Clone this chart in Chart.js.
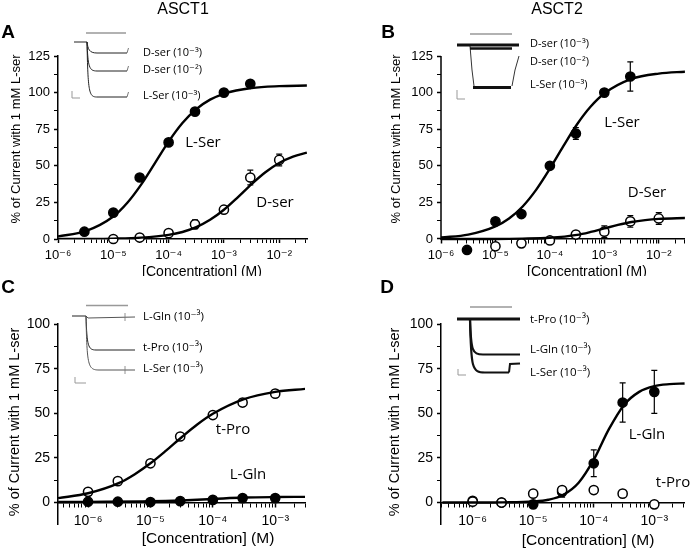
<!DOCTYPE html>
<html>
<head>
<meta charset="utf-8">
<script src="https://cdn.jsdelivr.net/npm/chart.js@4.4.1/dist/chart.umd.min.js"></script>
<style>
  html, body { margin: 0; padding: 0; background: #fff; }
  #fig { position: relative; width: 691px; height: 552px; }
  #fig canvas { position: absolute; }
</style>
</head>
<body>
<div id="fig">
  <canvas id="panelA" width="345" height="276" style="left:0;top:0;width:345px;height:276px"></canvas>
  <canvas id="panelB" width="346" height="276" style="left:345px;top:0;width:346px;height:276px"></canvas>
  <canvas id="panelC" width="345" height="276" style="left:0;top:276px;width:345px;height:276px"></canvas>
  <canvas id="panelD" width="346" height="276" style="left:345px;top:276px;width:346px;height:276px"></canvas>
</div>
<script>
// ---- data ----
// A: ASCT1, L-Ser and D-ser
const concA_lSer = [3e-6, 1e-5, 3e-5, 1e-4, 3e-4, 1e-3, 3e-3];
const valA_lSer = [5, 18, 42, 66, 87, 100, 106];
const errA_lSer = [1, 1.5, 2, 1.5, 1.5, 1, 2];
const concA_dSer = [1e-5, 3e-5, 1e-4, 3e-4, 1e-3, 3e-3, 1e-2];
const valA_dSer = [0, 1, 4, 10, 20, 42, 54];
const errA_dSer = [0.5, 1, 1, 3, 2.5, 5, 4];
const fitA_lSerLog = [-6, -5.5, -5, -4.75, -4.5, -4.25, -4, -3.75, -3.5, -3.25, -3, -2.5, -2, -1.5];
const fitA_lSer = [1.8, 5.4, 15.4, 24.6, 37.0, 51.7, 66.5, 79.2, 88.7, 95.2, 99.2, 103.1, 104.4, 104.8];
const fitA_dSerLog = [-6, -5.5, -5, -4.5, -4, -3.75, -3.5, -3.25, -3, -2.75, -2.5, -2.25, -2, -1.75, -1.5];
const fitA_dSer = [0.03, 0.09, 0.29, 0.91, 2.8, 4.8, 8.1, 13.1, 20, 28.5, 37.5, 45.6, 51.9, 56.2, 59];

// B: ASCT2, L-Ser and D-Ser
const concB_lSer = [3e-6, 1e-5, 3e-5, 1e-4, 3e-4, 1e-3, 3e-3];
const valB_lSer = [-7.5, 12, 17, 50, 72, 100, 111];
const errB_lSer = [1, 1, 1, 1.5, 4, 1, 10];
const concB_dSer = [1e-5, 3e-5, 1e-4, 3e-4, 1e-3, 3e-3, 1e-2];
const valB_dSer = [-5, -3, -1, 3, 5, 12, 14];
const errB_dSer = [1, 1, 1, 1.5, 4, 4, 4];
const fitB_lSerLog = [-6, -5.5, -5, -4.75, -4.5, -4.25, -4, -3.75, -3.5, -3.25, -3, -2.5, -2, -1.5];
const fitB_lSer = [1.0, 3.0, 8.6, 14.0, 22.2, 33.7, 48.0, 63.6, 78.4, 90.5, 99.4, 109.3, 113.0, 114.3];
const fitB_dSerLog = [-6, -5, -4.5, -4, -3.5, -3.25, -3, -2.75, -2.5, -2.25, -2, -1.5];
const fitB_dSer = [0, 0, 0.2, 0.8, 2.8, 4.8, 7.2, 9.6, 11.6, 12.9, 13.7, 14.3];

// C: ASCT1, t-Pro and L-Gln
const concC = [1e-6, 3e-6, 1e-5, 3e-5, 1e-4, 3e-4, 1e-3];
const valC_tPro = [6, 12, 22, 37, 49, 56, 61];
const errC_tPro = [1, 1, 1, 1, 1, 2, 2];
const valC_lGln = [0.5, 0.5, 0.3, 0.8, 1.5, 2.5, 2.5];
const errC_lGln = [0.5, 0.5, 0.5, 0.5, 0.5, 1, 1];
const fitC_tProLog = [-6.48, -6, -5.5, -5.25, -5, -4.75, -4.5, -4.25, -4, -3.5, -3, -2.52];
const fitC_tPro = [2.5, 5.2, 11.0, 15.9, 22.0, 29.1, 36.6, 43.7, 49.7, 57.9, 62, 63.7];
const fitC_lGlnLog = [-6.48, -6, -5, -4.5, -4, -3.5, -3, -2.52];
const fitC_lGln = [0.3, 0.4, 0.7, 1.2, 2.0, 2.8, 3.1, 3.2];

// D: ASCT2, L-Gln and t-Pro
const concD = [1e-6, 3e-6, 1e-5, 3e-5, 1e-4, 3e-4, 1e-3];
const valD_lGln = [1, 0, -1, 6, 22, 56, 62];
const errD_lGln = [1, 1, 2, 3, 7.5, 11, 12];
const valD_tPro = [0.5, 0, 5, 7, 7, 5, -1];
const errD_tPro = [0.5, 0.5, 1, 1.5, 2, 2, 0.5];
const fitD_lGlnLog = [-6.5, -6, -5.5, -5, -4.75, -4.5, -4.25, -4, -3.75, -3.5, -3.25, -3, -2.75, -2.5];
const fitD_lGln = [0, 0, 0.1, 0.6, 1.6, 4.4, 11.1, 24.0, 41.1, 54.7, 62.0, 65.2, 66.3, 66.7];

const yTicksTop = [0, 12.5, 25, 37.5, 50, 62.5, 75, 87.5, 100, 112.5, 125];
const yTicksBottom = [0, 12.5, 25, 37.5, 50, 62.5, 75, 87.5, 100];
const yTitle = '% of Current with 1 mM L-ser';
const xTitle = '[Concentration] (M)';

// ---- helpers ----
const SUP = {'-': '\u207B', '0': '\u2070', '1': '\u00B9', '2': '\u00B2', '3': '\u00B3', '4': '\u2074',
  '5': '\u2075', '6': '\u2076', '7': '\u2077', '8': '\u2078', '9': '\u2079'};
const sup = s => String(s).split('').map(c => SUP[c]).join('');
const ARIAL = "'Liberation Sans', Arial, 'DejaVu Sans', sans-serif";
const CALI = "'Open Sans', 'DejaVu Sans', sans-serif";

function isPow10(v) {
  const e = Math.log10(v);
  return Math.abs(e - Math.round(e)) < 1e-6;
}
function logTicks(min, max) {
  const out = [];
  for (let e = Math.floor(Math.log10(min)); e <= Math.ceil(Math.log10(max)); e++) {
    for (let d = 1; d < 10; d++) {
      const v = d * Math.pow(10, e);
      if (v >= min * 0.999 && v <= max * 1.001) out.push({value: v});
    }
  }
  return out;
}
const pts = (xs, ys) => xs.map((x, i) => ({x: x, y: ys[i]}));
const curve = (logs, ys) => logs.map((l, i) => ({x: Math.pow(10, l), y: ys[i]}));

function fitSet(logs, ys) {
  return {data: curve(logs, ys), showLine: true, borderColor: '#000', borderWidth: 2.4,
    pointRadius: 0, cubicInterpolationMode: 'monotone', fill: false};
}
function dotSet(xs, ys, errs, open) {
  return {data: pts(xs, ys), errors: errs, showLine: false, pointRadius: 4.6, pointBorderWidth: 1.5,
    pointBackgroundColor: open ? '#fff' : '#000', pointBorderColor: '#000', clip: false};
}

// error bars go under the markers
const errorBars = {
  id: 'errorBars',
  beforeDatasetsDraw(chart) {
    const c = chart.ctx, xs = chart.scales.x, ys = chart.scales.y;
    c.save();
    c.strokeStyle = '#000';
    c.lineWidth = 1.2;
    chart.data.datasets.forEach(ds => {
      if (!ds.errors) return;
      ds.data.forEach((p, j) => {
        const e = ds.errors[j];
        if (!e) return;
        const x = xs.getPixelForValue(p.x);
        const y1 = ys.getPixelForValue(p.y + e), y2 = ys.getPixelForValue(p.y - e);
        c.beginPath();
        c.moveTo(x, y1); c.lineTo(x, y2);
        c.moveTo(x - 3, y1); c.lineTo(x + 3, y1);
        c.moveTo(x - 3, y2); c.lineTo(x + 3, y2);
        c.stroke();
      });
    });
    c.restore();
  }
};

function line(c, pts, color, w) {
  c.beginPath();
  c.strokeStyle = color;
  c.lineWidth = w;
  c.moveTo(pts[0][0], pts[0][1]);
  for (let i = 1; i < pts.length; i++) c.lineTo(pts[i][0], pts[i][1]);
  c.stroke();
}
function drop(c, x0, y0, x1, y1, xEnd, color, w) {
  c.beginPath();
  c.strokeStyle = color;
  c.lineWidth = w;
  c.moveTo(x0, y0);
  c.bezierCurveTo(x0 + 1, y1 - 4, x0 + 2, y1, x1, y1);
  c.lineTo(xEnd, y1);
  c.stroke();
}
function label(c, t, x, y, font, align) {
  c.font = font;
  c.fillStyle = '#000';
  c.textAlign = align || 'center';
  c.textBaseline = 'middle';
  c.fillText(t, x, y);
}

// inset current traces, one per panel
const insets = {
  A(c) {
    line(c, [[86, 33], [126, 33]], '#999', 1.3);
    line(c, [[74, 42], [87, 42]], '#222', 1);
    [53, 71, 97].forEach(lv => {
      drop(c, 87, 42, 97, lv, 127, '#222', 1);
      line(c, [[127, lv], [128.5, lv - 5]], '#555', 0.8);
    });
    line(c, [[72, 91], [72, 98], [80, 98]], '#999', 1);
    const f = '11px ' + CALI;
    label(c, 'D-ser (10' + sup(-3) + ')', 143, 53, f, 'left');
    label(c, 'D-ser (10' + sup(-2) + ')', 143, 70, f, 'left');
    label(c, 'L-Ser (10' + sup(-3) + ')', 143, 96, f, 'left');
  },
  B(c) {
    line(c, [[125, 34], [167, 34]], '#999', 1.3);
    line(c, [[125, 46], [127, 70], [129, 86]], '#333', 1);
    line(c, [[167, 86], [170, 70], [174, 56]], '#333', 1);
    line(c, [[128, 87.5], [166, 87.5]], '#111', 3);
    line(c, [[125, 48.5], [167, 48.5]], '#111', 2.5);
    line(c, [[112, 45], [174, 45]], '#111', 3);
    line(c, [[112, 90], [112, 99], [120, 99]], '#999', 1);
    const f = '11px ' + CALI;
    label(c, 'D-ser (10' + sup(-3) + ')', 185, 44, f, 'left');
    label(c, 'D-ser (10' + sup(-2) + ')', 185, 62, f, 'left');
    label(c, 'L-Ser (10' + sup(-3) + ')', 185, 85, f, 'left');
  },
  C(c) {
    line(c, [[86, 29.5], [128, 29.5]], '#999', 1.3);
    line(c, [[72, 40], [86, 40]], '#222', 1);
    line(c, [[86, 40], [88, 42], [135, 41]], '#555', 1);
    drop(c, 86, 40, 96, 74, 135, '#222', 1);
    drop(c, 86, 40, 99, 94, 135, '#555', 1);
    line(c, [[125, 37], [125, 45]], '#777', 0.8);
    line(c, [[125, 90], [125, 98]], '#777', 0.8);
    line(c, [[75, 101], [75, 107], [86, 107]], '#999', 1);
    const f = '11.5px ' + CALI;
    label(c, 'L-Gln (10' + sup(-3) + ')', 143, 41, f, 'left');
    label(c, 't-Pro (10' + sup(-3) + ')', 143, 72, f, 'left');
    label(c, 'L-Ser (10' + sup(-3) + ')', 143, 93, f, 'left');
  },
  D(c) {
    line(c, [[125, 31], [167, 31]], '#999', 1.3);
    line(c, [[112, 43], [175, 43]], '#111', 3);
    drop(c, 125, 43, 138, 78.5, 175, '#111', 2.2);
    drop(c, 125, 43, 140, 96.5, 164, '#111', 2.2);
    line(c, [[164, 96.5], [165, 88], [175, 87.5]], '#111', 2);
    line(c, [[113, 93], [113, 99], [121, 99]], '#999', 1);
    const f = '11.5px ' + CALI;
    label(c, 't-Pro (10' + sup(-3) + ')', 185, 44, f, 'left');
    label(c, 'L-Gln (10' + sup(-3) + ')', 185, 74, f, 'left');
    label(c, 'L-Ser (10' + sup(-3) + ')', 185, 96.5, f, 'left');
  }
};

function decor(spec) {
  return {
    id: 'decor',
    afterDraw(chart) {
      const c = chart.ctx;
      c.save();
      if (spec.yLineFromZero) {
        // y axis drawn from 0 upward only; points below 0 still show
        const ys = chart.scales.y, x = chart.chartArea.left;
        line(c, [[x, ys.getPixelForValue(0) + 0.75], [x, ys.getPixelForValue(spec.yMax)]], '#000', 1.5);
      }
      spec.texts.forEach(t => {
        c.save();
        c.translate(t.x, t.y);
        if (t.rot) c.rotate(t.rot);
        label(c, t.t, 0, 0, t.font);
        c.restore();
      });
      insets[spec.key](c);
      c.restore();
    }
  };
}

function panelChart(spec) {
  const ctx = document.getElementById('panel' + spec.key).getContext('2d');
  return new Chart(ctx, {
    type: 'scatter',
    data: {datasets: spec.datasets},
    options: {
      responsive: false,
      animation: false,
      events: [],
      layout: {padding: spec.padding},
      plugins: {legend: {display: false}, tooltip: {enabled: false}},
      scales: {
        x: {
          type: 'logarithmic',
          min: spec.xMin,
          max: spec.xMax,
          position: spec.xAtZero ? {y: 0} : 'bottom',
          afterBuildTicks: s => { s.ticks = logTicks(s.min, s.max); },
          afterFit: s => { if (!spec.xAtZero) s.height = spec.xHeight; },
          border: {color: '#000', width: 1.5},
          grid: {drawOnChartArea: false, drawTicks: true, tickLength: 4, tickColor: '#000',
            tickWidth: cx => (cx.tick && isPow10(cx.tick.value)) ? 1.5 : 1},
          ticks: {autoSkip: false, maxRotation: 0, minRotation: 0, padding: spec.xPad, color: '#000',
            font: {family: ARIAL, size: spec.tickSize},
            callback: v => isPow10(v) ? '10' + sup(Math.round(Math.log10(v))) : ''}
        },
        y: {
          min: spec.yMin,
          max: spec.yMax,
          afterBuildTicks: s => { s.ticks = spec.yTicks.map(v => ({value: v})); },
          afterFit: s => { s.width = spec.yWidth; },
          border: {display: !spec.yLineFromZero, color: '#000', width: 1.5},
          grid: {drawOnChartArea: false, drawTicks: true, tickLength: 4, tickColor: '#000',
            tickWidth: cx => (cx.tick && cx.tick.value % 25 === 0) ? 1.5 : 1},
          ticks: {autoSkip: false, padding: 4, color: '#000', font: {family: ARIAL, size: spec.tickSize},
            callback: v => v % 25 === 0 ? String(v) : ''}
        }
      }
    },
    plugins: [errorBars, decor(spec)]
  });
}

// ---- panels ----
panelChart({
  key: 'A', xMin: 1e-6, xMax: 0.0318, yMin: 0, yMax: 125, yTicks: yTicksTop,
  yWidth: 58, xHeight: 37, xPad: 5, tickSize: 13,
  padding: {top: 56, right: 38, left: 0, bottom: 0},
  datasets: [fitSet(fitA_lSerLog, fitA_lSer), fitSet(fitA_dSerLog, fitA_dSer),
    dotSet(concA_lSer, valA_lSer, errA_lSer, false), dotSet(concA_dSer, valA_dSer, errA_dSer, true)],
  texts: [
    {t: 'ASCT1', x: 183, y: 10, font: '16px ' + ARIAL},
    {t: 'A', x: 8, y: 33, font: 'bold 19px ' + ARIAL},
    {t: yTitle, x: 16, y: 139, rot: -Math.PI / 2, font: '13px ' + ARIAL},
    {t: xTitle, x: 202, y: 272, font: '14px ' + ARIAL},
    {t: 'L-Ser', x: 203, y: 143, font: '15px ' + CALI},
    {t: 'D-ser', x: 275, y: 203, font: '15px ' + CALI}
  ]
});

panelChart({
  key: 'B', xMin: 1e-6, xMax: 0.0302, xAtZero: true, yLineFromZero: true,
  yMin: -10, yMax: 125, yTicks: yTicksTop,
  yWidth: 96, xPad: 5, tickSize: 13,
  padding: {top: 56, right: 1, left: 0, bottom: 22.4},
  datasets: [fitSet(fitB_lSerLog, fitB_lSer), fitSet(fitB_dSerLog, fitB_dSer),
    dotSet(concB_lSer, valB_lSer, errB_lSer, false), dotSet(concB_dSer, valB_dSer, errB_dSer, true)],
  texts: [
    {t: 'ASCT2', x: 212, y: 10, font: '16px ' + ARIAL},
    {t: 'B', x: 43, y: 33, font: 'bold 19px ' + ARIAL},
    {t: yTitle, x: 51, y: 139, rot: -Math.PI / 2, font: '13px ' + ARIAL},
    {t: xTitle, x: 242, y: 272, font: '14px ' + ARIAL},
    {t: 'L-Ser', x: 277, y: 123, font: '15px ' + CALI},
    {t: 'D-Ser', x: 302, y: 193, font: '15px ' + CALI}
  ]
});

panelChart({
  key: 'C', xMin: 3.3e-7, xMax: 3.0e-3, xAtZero: true, yMin: -12, yMax: 100, yTicks: yTicksBottom,
  yWidth: 58, xPad: 6, tickSize: 14,
  padding: {top: 48, right: 40, left: 0, bottom: 28},
  datasets: [fitSet(fitC_tProLog, fitC_tPro), fitSet(fitC_lGlnLog, fitC_lGln),
    dotSet(concC, valC_tPro, errC_tPro, true), dotSet(concC, valC_lGln, errC_lGln, false)],
  texts: [
    {t: 'C', x: 8, y: 12, font: 'bold 19px ' + ARIAL},
    {t: yTitle, x: 15, y: 146, rot: -Math.PI / 2, font: '14.5px ' + ARIAL},
    {t: xTitle, x: 208, y: 263, font: '15.5px ' + ARIAL},
    {t: 't-Pro', x: 233, y: 154, font: '15px ' + CALI},
    {t: 'L-Gln', x: 248, y: 199, font: '15px ' + CALI}
  ]
});

panelChart({
  key: 'D', xMin: 3.0e-7, xMax: 3.2e-3, xAtZero: true, yMin: -12, yMax: 100, yTicks: yTicksBottom,
  yWidth: 96, xPad: 6, tickSize: 14,
  padding: {top: 48, right: 1, left: 0, bottom: 28},
  datasets: [fitSet(fitD_lGlnLog, fitD_lGln),
    dotSet(concD, valD_tPro, errD_tPro, true), dotSet(concD, valD_lGln, errD_lGln, false)],
  texts: [
    {t: 'D', x: 42, y: 12, font: 'bold 19px ' + ARIAL},
    {t: yTitle, x: 50, y: 146, rot: -Math.PI / 2, font: '14.5px ' + ARIAL},
    {t: xTitle, x: 243, y: 265, font: '15.5px ' + ARIAL},
    {t: 'L-Gln', x: 302, y: 159, font: '15px ' + CALI},
    {t: 't-Pro', x: 328, y: 207, font: '15px ' + CALI}
  ]
});
</script>
</body>
</html>
